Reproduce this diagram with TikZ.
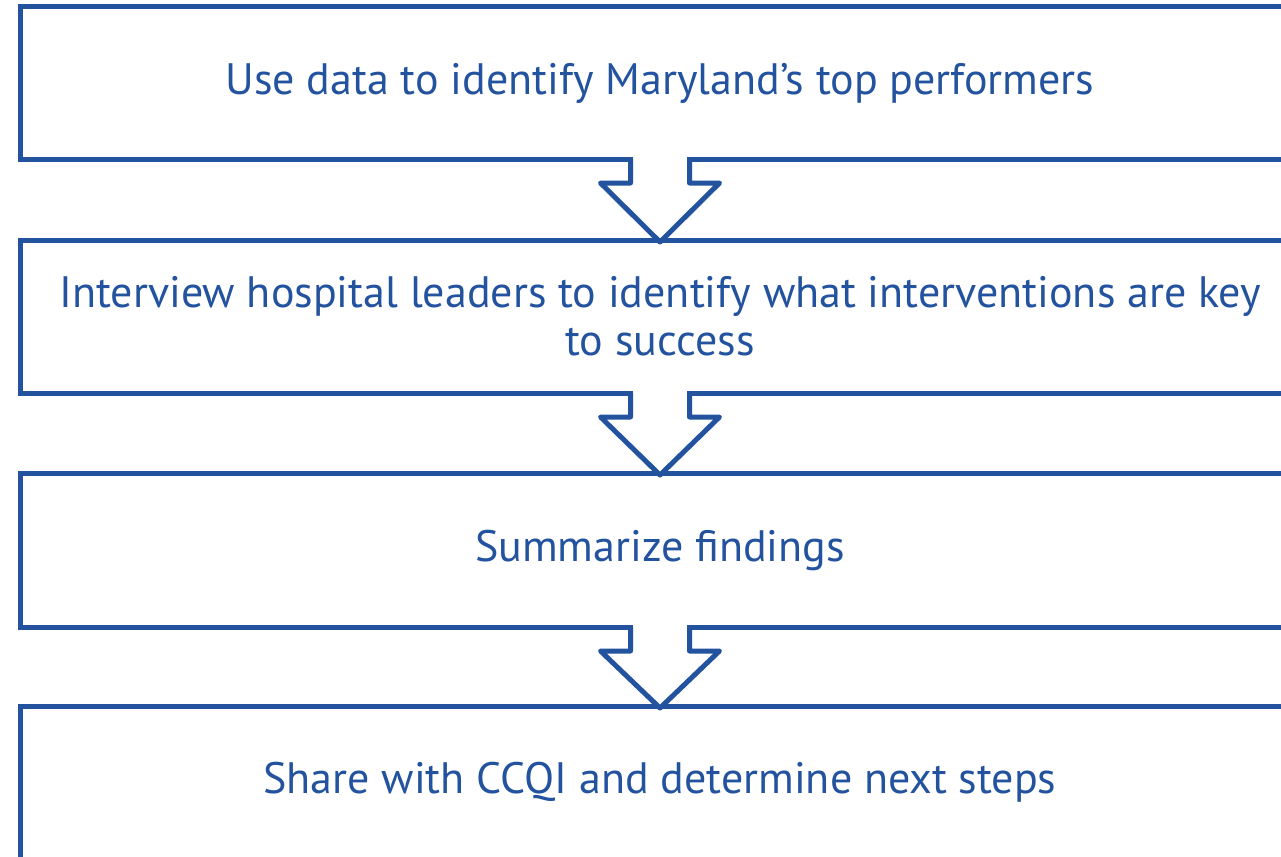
\documentclass[tikz,border=0pt]{standalone}
\usepackage{fontspec}
\setmainfont{PT Sans}
\usetikzlibrary{calc}
\definecolor{flowblue}{RGB}{35,83,158}
\newcommand\flowarr[2]{%
  \fill[white] ($(#1.south)+(-27,-3)$) rectangle ($(#1.south)+(27,3)$);
  \draw[arrowline] ($(#1.south)+(-29.5,0)$) -- ($(#1.south)+(-29.5,24)$) -- ($(#1.south)+(-59.5,24)$) -- ($(#2.north)+(0,2)$) -- ($(#1.south)+(59.5,24)$) -- ($(#1.south)+(29.5,24)$) -- ($(#1.south)+(29.5,0)$);}
\begin{document}
\begin{tikzpicture}[x=1pt,y=-1pt,
  box/.style={draw=flowblue, line width=5pt, fill=white, outer sep=0pt, inner sep=0pt,
    minimum width=1279pt, text=flowblue, align=center,
    font=\fontsize{44}{48}\selectfont},
  arrowline/.style={draw=flowblue, line width=5pt, line join=round, fill=white}]
\useasboundingbox (0,0) rectangle (1281,856);
\clip (0,0) rectangle (1281,856);
\node[box, minimum height=152pt] (b1) at (660,83) {Use data to identify Maryland’s top performers};
\node[box, minimum height=153pt] (b2) at (660,316.5) {Interview hospital leaders to identify what interventions are key\\to success};
\node[box, minimum height=154pt] (b3) at (660,550) {Summarize findings};
\node[box, minimum height=153pt] (b4) at (660,782.5) {Share with CCQI and determine next steps};
\flowarr{b1}{b2}
\flowarr{b2}{b3}
\flowarr{b3}{b4}
\end{tikzpicture}
\end{document}
